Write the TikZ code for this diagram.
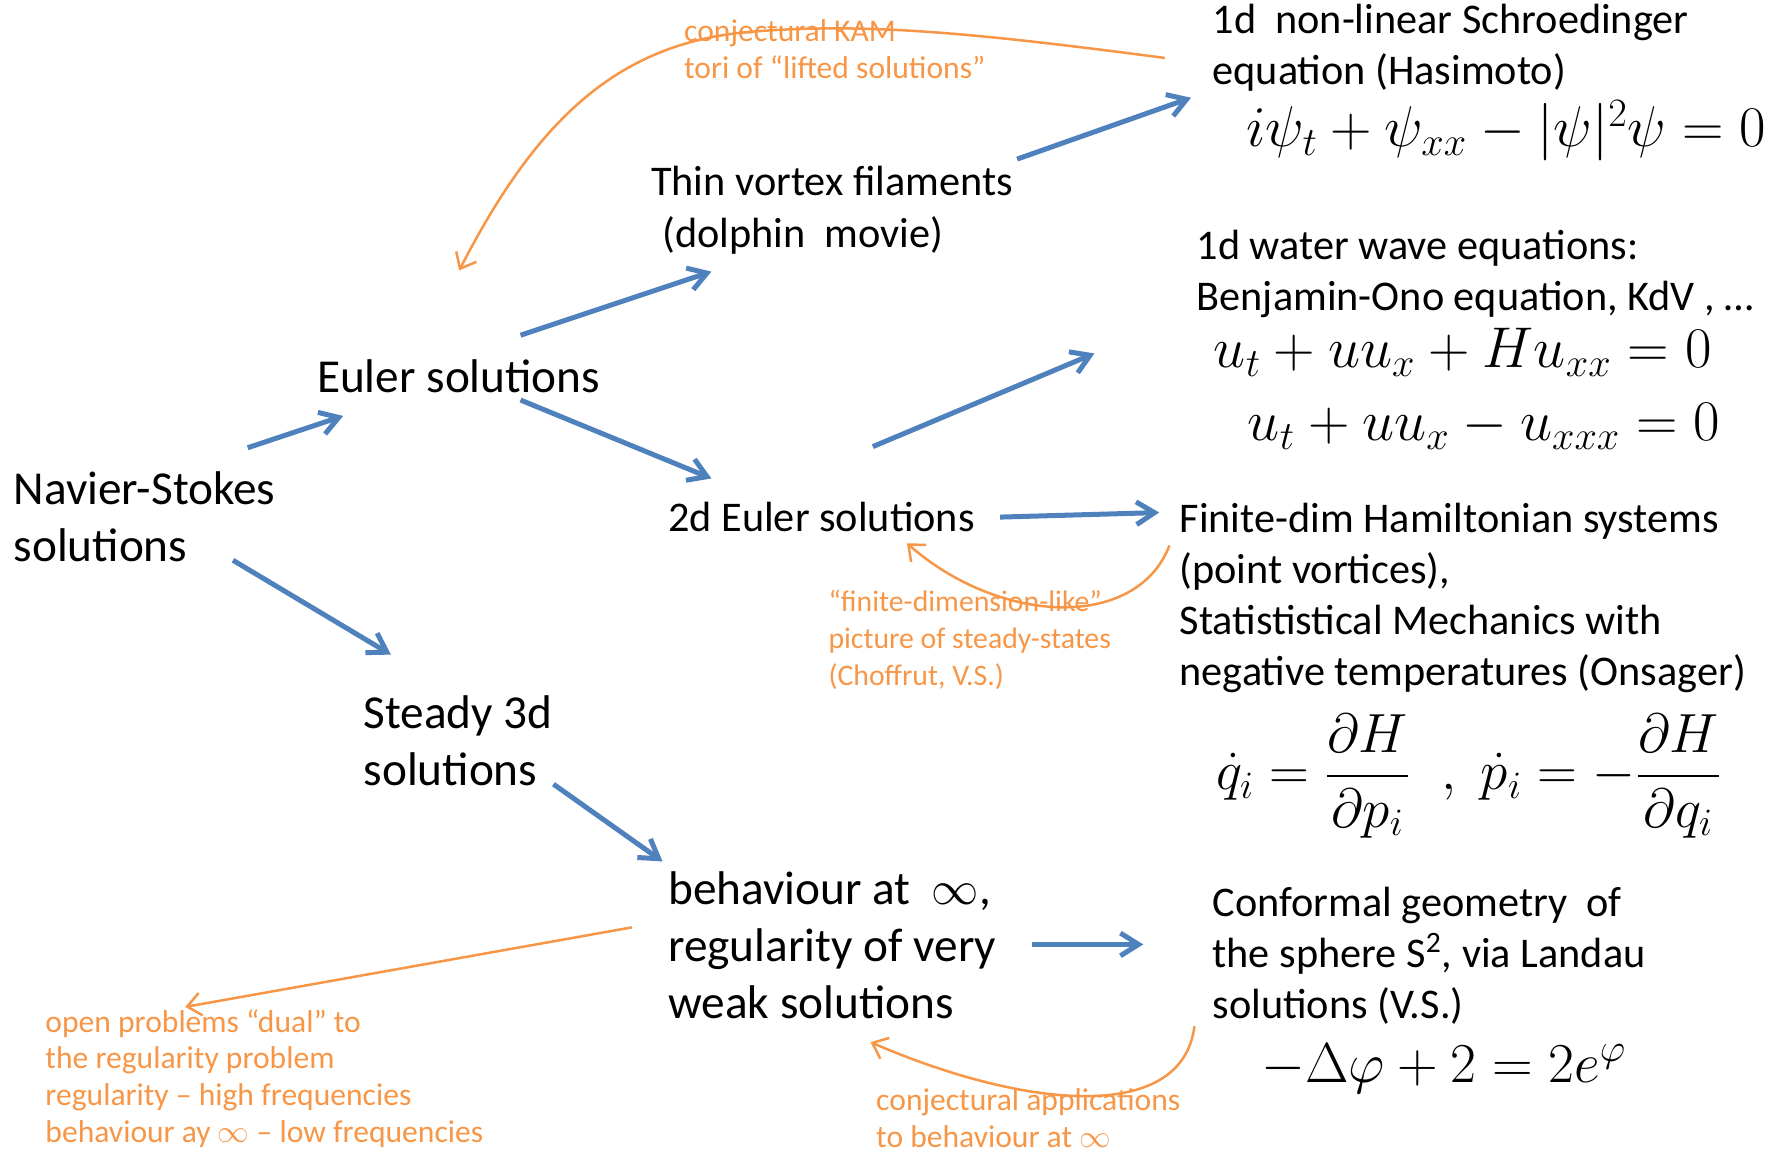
\RequirePackage{fix-cm}
\documentclass[tikz,border=0pt]{standalone}
\usepackage{amsmath}
\usepackage[no-math]{fontspec}
\setmainfont{Carlito}
\usepackage{tikz}
\usetikzlibrary{arrows.meta,calc}
\definecolor{flowblue}{RGB}{79,129,189}
\definecolor{noteorange}{RGB}{247,150,70}

\begin{document}
\begin{tikzpicture}[x=0.5pt,y=-0.5pt,
    every node/.style={inner sep=0pt,outer sep=0pt,anchor=west,align=left},
    big/.style={font=\fontsize{20.8}{25}\selectfont},
    mid/.style={font=\fontsize{18.6}{22.5}\selectfont},
    eq/.style={font=\fontsize{#1}{30}\selectfont}, eq/.default=25.3,
    note/.style={text=noteorange,font=\fontsize{#1}{16.2}\selectfont}, note/.default=13.9,
    flow/.style={draw=flowblue,line width=2.2pt,-{Straight Barb[length=8pt,width=10pt]}},
    back/.style={draw=noteorange,line width=1.1pt,-{Straight Barb[length=6pt,width=10pt]}}]
        \useasboundingbox (0,0) rectangle (1568,1015);
        \node[big] (ns) at (12,455) {Navier-Stokes\\solutions};
        \node[big] (euler) at (279,331) {Euler solutions};
        \node[big] (steady) at (320,652) {Steady 3d\\solutions};
        \node[big] (behav) at (588,832) {behaviour at\ \ $\infty$,\\regularity of very\\weak solutions};
        \node[mid] (thin) at (573,185) {Thin vortex filaments\\\hspace{5pt}(dolphin\ \ movie)};
        \node[mid] (twod) at (588,455) {2d Euler solutions};
        \node[mid] (nls) at (1067,42) {1d\ \ non-linear Schroedinger\\equation (Hasimoto)};
        \node[eq] (nlseq) at (1097,115) {$i\psi_t+\psi_{xx}-|\psi|^2\psi=0$};
        \node[mid] (ww) at (1053,241) {1d water wave equations:\\Benjamin-Ono equation, KdV , …};
        \node[eq] (boeq) at (1068,310) {$u_t+uu_x+Hu_{xx}=0$};
        \node[eq] (kdveq) at (1098,375) {$u_t+uu_x-u_{xxx}=0$};
        \node[mid] (ham) at (1038,526) {Finite-dim Hamiltonian systems\\(point vortices),\\Statististical Mechanics with\\negative temperatures (Onsager)};
        \node[eq=24.3] (hameq) at (1070,683) {$\dot q_i=\dfrac{\partial H}{\partial p_i}\;\;,\;\dot p_i=-\dfrac{\partial H}{\partial q_i}$};
        \node[mid] (conf) at (1067,841) {Conformal geometry\ \ of\\the sphere S\textsuperscript{2}, via Landau\\solutions (V.S.)};
        \node[eq=24.8] (liueq) at (1110,940) {$-\Delta\varphi+2=2e^{\varphi}$};
        \node[note] (kam) at (602,43) {conjectural KAM\\tori of “lifted solutions”};
        \node[note=13.1] (fdl) at (729,563) {“finite-dimension-like”\\picture of steady-states\\(Choffrut, V.S.)};
        \node[note] (dual) at (40,949) {open problems “dual” to\\the regularity problem\\regularity -- high frequencies\\behaviour ay $\infty$ -- low frequencies};
        \node[note] (appl) at (771,984) {conjectural applications\\to behaviour at $\infty$};
        \draw[flow] ([shift={(206,-61)}]ns.west)--([shift={(23,35)}]euler.west);
        \draw[flow] ([shift={(193,38)}]ns.west)--([shift={(24,-76)}]steady.west);
        \draw[flow] ([shift={(179,-36)}]euler.west)--([shift={(53,54)}]thin.west);
        \draw[flow] ([shift={(179,21)}]euler.west)--([shift={(38,-34)}]twod.west);
        \draw[flow] ([shift={(322,-45)}]thin.west)--([shift={(-19,44)}]nls.west);
        \draw[flow] ([shift={(180,-62)}]twod.west)--([shift={(-90,70)}]ww.west);
        \draw[flow] ([shift={(292,0)}]twod.west)--([shift={(-18,-75)}]ham.west);
        \draw[flow] ([shift={(167,38)}]steady.west)--([shift={(-5,-74)}]behav.west);
        \draw[flow] ([shift={(320,-1)}]behav.west)--([shift={(-61,-10)}]conf.west);
        \draw[back] ([shift={(-42,9)}]nls.west) .. controls (850,28) and (760,20) .. (660,28) .. controls (540,38) and (470,110) .. ([shift={(125,-93)}]euler.west);
        \draw[back] ([shift={(-9,-46)}]ham.west) .. controls (1000,555) and (880,550) .. ([shift={(210,23)}]twod.west);
        \draw[back] ([shift={(-32,-16)}]behav.west)--([shift={(123,-63)}]dual.west);
        \draw[back] ([shift={(-16,62)}]conf.west) .. controls (1040,990) and (900,975) .. ([shift={(178,85)}]behav.west);
\end{tikzpicture}
\end{document}
